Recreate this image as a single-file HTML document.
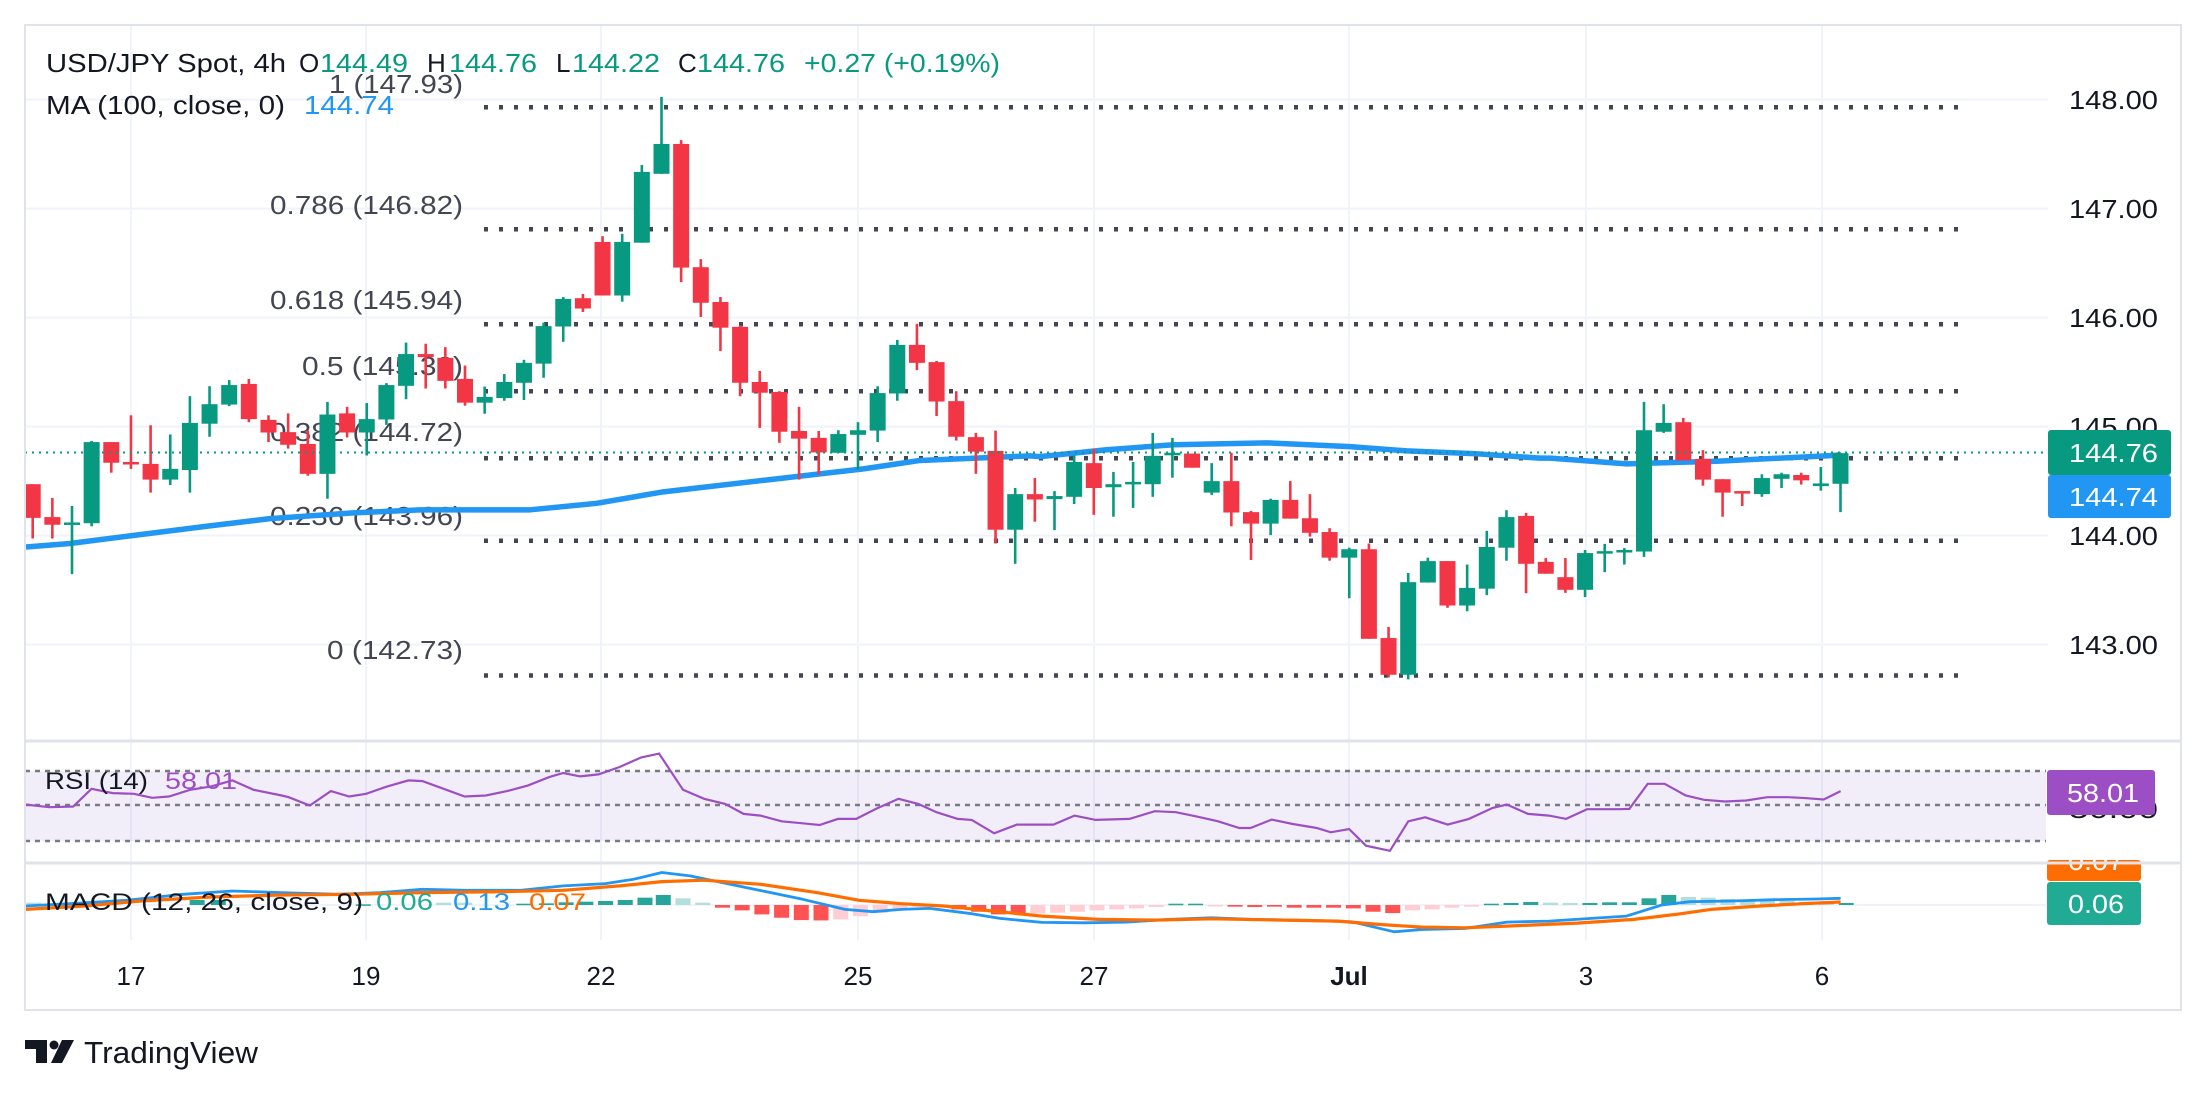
<!DOCTYPE html>
<html><head><meta charset="utf-8"><style>
html,body{margin:0;padding:0;background:#fff;}
svg{display:block;font-family:"Liberation Sans",sans-serif;}
</style></head><body>
<svg id="s" width="2208" height="1097" viewBox="0 0 2208 1097" xmlns="http://www.w3.org/2000/svg">
<rect width="2208" height="1097" fill="#fff"/>
<g id="grid"></g>
<g id="fib"></g>
<g font-size="26" fill="#434651">
<text x="463" y="93" text-anchor="end" textLength="134" lengthAdjust="spacingAndGlyphs">1 (147.93)</text>
<text x="463" y="214" text-anchor="end" textLength="193" lengthAdjust="spacingAndGlyphs">0.786 (146.82)</text>
<text x="463" y="309" text-anchor="end" textLength="193" lengthAdjust="spacingAndGlyphs">0.618 (145.94)</text>
<text x="463" y="375" text-anchor="end" textLength="161" lengthAdjust="spacingAndGlyphs">0.5 (145.33)</text>
<text x="463" y="441" text-anchor="end" textLength="193" lengthAdjust="spacingAndGlyphs">0.382 (144.72)</text>
<text x="463" y="525" text-anchor="end" textLength="193" lengthAdjust="spacingAndGlyphs">0.236 (143.96)</text>
<text x="463" y="659" text-anchor="end" textLength="136" lengthAdjust="spacingAndGlyphs">0 (142.73)</text>
</g>
<g id="ma"></g>
<g id="candles"></g>
<line x1="25" y1="452.5" x2="2048" y2="452.5" stroke="#089981" stroke-width="2" stroke-dasharray="2 5"/>
<g id="rsi"></g>
<g id="macd"></g>
<g font-size="26">
<text y="72" fill="#131722"><tspan x="46" textLength="240" lengthAdjust="spacingAndGlyphs">USD/JPY Spot, 4h</tspan></text>
<text y="72" fill="#131722" x="299">O</text><text y="72" fill="#089981" x="320" textLength="88" lengthAdjust="spacingAndGlyphs">144.49</text>
<text y="72" fill="#131722" x="427">H</text><text y="72" fill="#089981" x="449" textLength="88" lengthAdjust="spacingAndGlyphs">144.76</text>
<text y="72" fill="#131722" x="556">L</text><text y="72" fill="#089981" x="572" textLength="88" lengthAdjust="spacingAndGlyphs">144.22</text>
<text y="72" fill="#131722" x="678">C</text><text y="72" fill="#089981" x="697" textLength="88" lengthAdjust="spacingAndGlyphs">144.76</text>
<text y="72" fill="#089981" x="804" textLength="196" lengthAdjust="spacingAndGlyphs">+0.27 (+0.19%)</text>
<text y="114" fill="#131722" x="46" textLength="239" lengthAdjust="spacingAndGlyphs">MA (100, close, 0)</text>
<text y="114" fill="#2196f3" x="304" textLength="90" lengthAdjust="spacingAndGlyphs">144.74</text>
</g>
<g font-size="26" fill="#131722">
<text x="2069" y="109" textLength="89" lengthAdjust="spacingAndGlyphs">148.00</text>
<text x="2069" y="218" textLength="89" lengthAdjust="spacingAndGlyphs">147.00</text>
<text x="2069" y="327" textLength="89" lengthAdjust="spacingAndGlyphs">146.00</text>
<text x="2069" y="436" textLength="89" lengthAdjust="spacingAndGlyphs">145.00</text>
<text x="2069" y="545" textLength="89" lengthAdjust="spacingAndGlyphs">144.00</text>
<text x="2069" y="654" textLength="89" lengthAdjust="spacingAndGlyphs">143.00</text>
<text x="2069" y="818" textLength="89" lengthAdjust="spacingAndGlyphs">50.00</text>
</g>
<rect x="2048" y="430" width="123" height="45" rx="3" fill="#089981"/>
<text x="2069" y="462" font-size="26" fill="#fff" textLength="89" lengthAdjust="spacingAndGlyphs">144.76</text>
<rect x="2048" y="475" width="123" height="43" rx="3" fill="#2196f3"/>
<text x="2069" y="506" font-size="26" fill="#fff" textLength="89" lengthAdjust="spacingAndGlyphs">144.74</text>
<rect x="2047" y="770" width="108" height="45" rx="3" fill="#9c4fc4"/>
<text x="2067" y="802" font-size="26" fill="#fff" textLength="72" lengthAdjust="spacingAndGlyphs">58.01</text>
<svg x="2047" y="860" width="94" height="21"><rect x="0" y="0" width="94" height="21" rx="3" fill="#ff6d00"/>
<text x="21" y="10" font-size="26" fill="#fff" textLength="56" lengthAdjust="spacingAndGlyphs">0.07</text></svg>
<rect x="2047" y="882" width="94" height="43" rx="3" fill="#22ab94"/>
<text x="2068" y="913" font-size="26" fill="#fff" textLength="56" lengthAdjust="spacingAndGlyphs">0.06</text>
<g font-size="24">
<text x="45" y="789" fill="#131722" textLength="103" lengthAdjust="spacingAndGlyphs">RSI (14)</text>
<text x="165" y="789" fill="#9c4fc4" textLength="72" lengthAdjust="spacingAndGlyphs">58.01</text>
<text x="45" y="910" fill="#131722" textLength="318" lengthAdjust="spacingAndGlyphs">MACD (12, 26, close, 9)</text>
<text x="376" y="910" fill="#22ab94" textLength="57" lengthAdjust="spacingAndGlyphs">0.06</text>
<text x="453" y="910" fill="#2196f3" textLength="57" lengthAdjust="spacingAndGlyphs">0.13</text>
<text x="529" y="910" fill="#ff6d00" textLength="57" lengthAdjust="spacingAndGlyphs">0.07</text>
</g>
<g font-size="26" fill="#131722" text-anchor="middle">
<text x="131" y="985">17</text><text x="366" y="985">19</text><text x="601" y="985">22</text>
<text x="858" y="985">25</text><text x="1094" y="985">27</text><text x="1349" y="985" font-weight="bold">Jul</text>
<text x="1586" y="985">3</text><text x="1822" y="985">6</text>
</g>
<g stroke="#e0e3eb" fill="none">
<rect x="25" y="25" width="2156" height="985" stroke-width="2"/>
<line x1="25" y1="741" x2="2181" y2="741" stroke-width="3"/>
<line x1="25" y1="863" x2="2181" y2="863" stroke-width="3"/>
</g>
<g fill="#131722">
<path d="M25 1040 h22 v23 h-11 v-14 h-11z"/>
<circle cx="54" cy="1045" r="4.5"/>
<path d="M62 1040 h12 l-12 23 h-11z"/>
<text x="84" y="1063" font-size="31" textLength="174" lengthAdjust="spacingAndGlyphs">TradingView</text>
</g>
</svg>
<script>
const NS="http://www.w3.org/2000/svg";
function el(p,t,a){const e=document.createElementNS(NS,t);for(const k in a)e.setAttribute(k,a[k]);p.appendChild(e);return e;}
const G=id=>document.getElementById(id);
const g=G('grid');
[99.6,208.6,317.6,426.6,535.6,644.6].forEach(y=>el(g,'line',{x1:25,x2:2048,y1:y,y2:y,stroke:'#f0f3fa','stroke-width':2}));
[131,366,601,858,1094,1349,1586,1822].forEach(x=>el(g,'line',{x1:x,x2:x,y1:25,y2:940,stroke:'#f0f3fa','stroke-width':2}));
el(g,'rect',{x:25,y:771,width:2021,height:70,fill:'rgba(126,87,194,0.1)'});
[771,805,841].forEach(y=>el(g,'line',{x1:25,x2:2046,y1:y,y2:y,stroke:'#787b86','stroke-width':2.5,'stroke-dasharray':'5 5'}));
el(g,'line',{x1:25,x2:2046,y1:905,y2:905,stroke:'#f0f3fa','stroke-width':2});
const f=G('fib');
[107.2,229.3,324.2,391.2,458.2,540.8,675.5].forEach(y=>el(f,'line',{x1:484,x2:1960,y1:y,y2:y,stroke:'#434651','stroke-width':4.5,'stroke-dasharray':'4 11'}));
const C=[[0,1030,1118,1030,1172],[0,1116,1136,1066,1172],[1,1130,1136,1087,1265],[1,920,1132,917,1140],[0,920,974,920,1000],[0,972,978,850,990],[0,977,1018,876,1052],[1,990,1018,900,1032],[1,870,993,800,1052],[1,821,872,774,906],[1,771,822,758,826],[0,768,860,755,868],[0,862,895,850,920],[0,894,927,845,937],[0,925,1003,890,1008],[1,848,1003,815,1068],[0,845,895,828,908],[1,860,895,818,955],[1,771,861,766,875],[1,690,773,660,808],[0,690,698,663,780],[0,700,760,672,780],[0,755,817,720,825],[1,802,817,775,846],[1,763,805,742,812],[1,713,765,705,810],
[1,617,715,608,752],[1,546,618,541,658],[0,544,571,533,580],[0,397,537,382,537],[1,397,537,376,553],[1,214,399,196,399],[1,141,219,18,219],[0,141,464,131,502],[0,463,556,442,593],[0,554,621,541,682],[0,619,765,615,800],[0,763,791,734,883],[0,789,893,787,922],[0,891,911,828,1018],[0,909,947,891,1005],[1,899,948,889,948],[1,889,901,868,992],[1,792,890,774,920],[1,666,793,653,812],[0,666,713,611,732],[0,711,814,708,852],[0,813,906,787,916],[0,907,945,896,1003],[0,943,1149,890,1185],[1,1056,1149,1040,1238],[0,1056,1070,1014,1128],
[1,1061,1069,1048,1150],[1,972,1063,955,1082],[0,975,1040,937,1110],[1,1030,1038,998,1115],[1,1024,1030,972,1092],[1,956,1030,896,1063],[1,948,953,909,1013],[0,950,987,950,987],[1,1022,1052,975,1058],[0,1022,1104,948,1140],[0,1103,1133,1100,1228],[1,1071,1133,1068,1163],[0,1071,1120,1022,1120],[0,1119,1157,1056,1167],[0,1155,1222,1145,1230],[1,1200,1222,1196,1328],[0,1200,1434,1185,1434],[0,1432,1528,1403,1535],[1,1286,1528,1262,1540],[1,1231,1287,1222,1287],[0,1231,1347,1231,1353],[1,1301,1347,1240,1362],[1,1194,1303,1152,1320],[1,1116,1196,1098,1230],[0,1113,1238,1105,1315],[0,1233,1264,1223,1264],
[0,1273,1306,1223,1314],[1,1210,1306,1202,1325],[1,1205,1210,1186,1260],[1,1202,1206,1197,1240],[1,889,1206,815,1220],[1,870,893,821,896],[0,868,968,857,968],[0,964,1018,941,1034],[0,1017,1052,1017,1115],[0,1048,1052,1048,1087],[1,1014,1056,1004,1063],[1,1004,1016,1000,1040],[0,1006,1020,1000,1031],[1,1028,1035,985,1047],[1,949,1029,949,1103]];
const cg=G('candles');const Y=z=>90+z/2.613;
C.forEach((c,i)=>{const x=32.7+19.65*i;const col=c[0]?'#089981':'#f23645';
el(cg,'rect',{x:x-1.3,y:Y(c[3]),width:2.6,height:Math.max(1,Y(c[4])-Y(c[3])),fill:col});
el(cg,'rect',{x:Math.max(25,x-8),y:Y(c[1]),width:16-(x-8<25?25-(x-8):0),height:Math.max(2.5,Y(c[2])-Y(c[1])),fill:col});});
function pts(arr,off){return arr.map(p=>[off+p[0]/3,90+p[1]/2.613]);}
let ma=[].concat(pts([[0,1195],[150,1185],[330,1165],[560,1140],[750,1120],[1000,1105],[1200,1097],[1500,1097]],20),
pts([[0,1097],[200,1080],[400,1050],[700,1020],[1000,990],[1170,968],[1500,956]],530),
pts([[0,958],[200,940],[400,927],[680,922],[930,932],[1100,943],[1300,950],[1500,962]],1040),
pts([[0,962],[230,977],[500,970],[850,955],[873,953]],1550));
ma=ma.filter(p=>p[0]>=26);
ma.unshift([26,90+1194/2.613]);
el(G('ma'),'polyline',{points:ma.map(p=>p.join(',')).join(' '),fill:'none',stroke:'#2196f3','stroke-width':5.5,'stroke-linejoin':'round'});
const R=[[18,312],[35,320],[52,318],[65,265],[80,278],[95,280],[108,292],[120,288],[135,268],[150,258],[165,240],[180,268],[200,285],[205,290],[220,315],[235,272],[248,288],[260,280],[275,258],[290,240],[300,242],[315,265],[330,288],[345,285],[360,272],[375,255],[390,230],[400,218],[412,228],[425,222],[440,200],[455,172],[468,160],[485,268],[500,295],[515,310],[528,340],[540,345],[555,362],[570,368],[582,373],[595,355],[608,355],[622,325],[638,295],[652,310],[665,335],[680,355],[690,358],[706,398],[722,372],[748,372],[763,345],[778,358],[802,355],[820,332],[835,335],[850,348],[865,362],[880,382],[888,382],[903,357],[918,370],[935,382],[945,395],[958,385],[970,435],[987,450],[1000,362],[1012,350],[1028,372],[1043,355],[1060,322],[1070,312],[1085,340],[1100,345],[1112,355],[1127,326],[1150,326],[1157,325],[1170,250],[1182,250],[1197,285],[1210,298],[1225,303],[1240,300],[1255,290],[1270,290],[1283,293],[1295,297],[1307,272]];
const Z=a=>a.map(p=>(p[0]/0.7101).toFixed(1)+','+(700+p[1]/2.985).toFixed(1)).join(' ');
el(G('rsi'),'polyline',{points:Z(R),fill:'none',stroke:'#9c4fc4','stroke-width':2.2});
const H=[[24,605,'l'],[140,597,'t'],[155,597,'t'],[258,610,'t'],[315,605,'l'],[330,605,'l'],[372,608,'t'],[388,607,'t'],[402,604,'t'],[416,602,'t'],[430,600,'t'],[444,597,'t'],[458,590,'t'],[471,582,'t'],[485,592,'l'],[499,605,'l'],[513,620,'r'],[527,628,'r'],[541,640,'r'],[555,650,'r'],[569,657,'r'],[583,658,'r'],[597,655,'p'],[611,645,'p'],[625,635,'p'],[639,625,'p'],[653,618,'p'],[667,615,'p'],[681,625,'r'],[695,632,'r'],[709,640,'r'],[723,640,'r'],[737,637,'p'],[751,635,'p'],[765,632,'p'],[779,628,'p'],[793,625,'p'],[807,622,'p'],[821,618,'p'],[835,608,'t'],[849,608,'t'],[863,616,'p'],[877,617,'r'],[891,618,'r'],[905,617,'r'],[919,620,'r'],[933,620,'r'],[947,620,'r'],[961,622,'r'],[975,632,'r'],[989,636,'r'],[1003,628,'p'],[1017,625,'p'],[1031,620,'p'],[1045,617,'p'],[1059,608,'t'],[1073,606,'t'],[1087,603,'t'],[1101,605,'l'],[1115,606,'l'],[1129,606,'t'],[1143,604,'t'],[1157,604,'t'],[1171,592,'t'],[1185,582,'t'],[1199,588,'l'],[1213,590,'l'],[1227,594,'l'],[1241,596,'l'],[1255,598,'l'],[1269,600,'l'],[1283,602,'l'],[1297,604,'l'],[1311,606,'t']];
const cols={t:'#26a69a',l:'#b2dfdb',r:'#ff5252',p:'#ffcdd2'};const mg=G('macd');const z0=905;
H.forEach(h=>{const x=h[0]/0.7101;const y=700+h[1]/2.985;el(mg,'rect',{x:x-7.5,y:Math.min(y,z0),width:15,height:Math.max(1.5,Math.abs(y-z0)),fill:cols[h[2]]});});
const MB=[[18,615],[50,608],[90,598],[130,580],[165,570],[200,575],[240,580],[270,575],[300,565],[330,568],[370,568],[400,555],[430,548],[450,535],[470,515],[490,525],[530,560],[570,595],[600,625],[620,632],[640,625],[660,622],[690,638],[710,652],[740,664],[770,665],[800,663],[830,655],[860,650],[890,655],[930,658],[960,662],[990,692],[1010,685],[1040,682],[1070,663],[1100,660],[1130,652],[1155,645],[1180,612],[1200,602],[1230,600],[1260,596],[1290,594],[1307,592]];
const MO=[[18,625],[60,615],[100,600],[150,588],[200,582],[250,580],[300,575],[360,572],[400,568],[440,555],[470,542],[500,538],[540,550],[580,575],[610,598],[640,608],[670,615],[700,628],[740,645],[780,655],[820,657],[860,653],[900,656],[950,660],[980,670],[1010,678],[1040,680],[1070,675],[1120,666],[1160,655],[1190,640],[1215,625],[1250,615],[1280,608],[1307,603]];
el(mg,'polyline',{points:Z(MB),fill:'none',stroke:'#2196f3','stroke-width':2.8,'stroke-linejoin':'round'});
el(mg,'polyline',{points:Z(MO),fill:'none',stroke:'#ff6d00','stroke-width':3.2,'stroke-linejoin':'round'});
</script>
</body></html>
